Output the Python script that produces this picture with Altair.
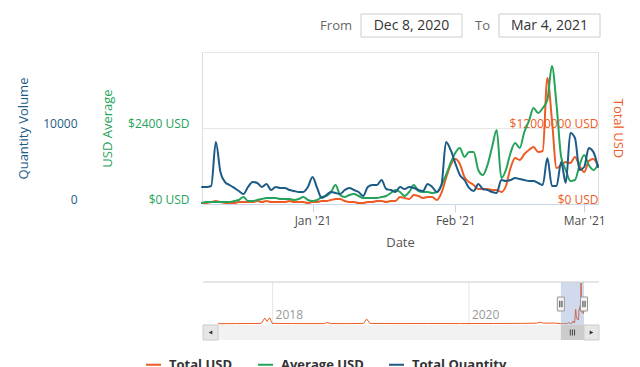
import altair as alt
import pandas as pd

FONT = "Open Sans"

# ------------------------------------------------------------------ data
dates = [d.strftime("%Y-%m-%d") for d in pd.date_range("2020-12-08", "2021-03-04", freq="D")]

total_usd = [
    158000, 158000, 316000, 474000, 316000, 158000, 158000, 158000, 316000, 316000,
    316000, 316000, 474000, 316000, 474000, 316000, 316000, 316000, 316000, 474000,
    316000, 316000, 316000, 158000, 316000, 316000, 474000, 474000, 632000, 789000,
    789000, 474000, 316000, 316000, 158000, 158000, 316000, 316000, 474000, 474000,
    316000, 474000, 474000, 1105000, 947000, 789000, 1420000, 1260000, 947000, 1105000,
    1105000, 632000, 1740000, 4100000, 6160000, 7110000, 6320000, 4260000, 3470000, 3000000,
    2370000, 2370000, 2370000, 2210000, 2210000, 1900000, 2840000, 5680000, 7260000, 6950000,
    7900000, 8530000, 9000000, 8210000, 8370000, 19900000, 13260000, 5680000, 6160000, 6630000,
    6470000, 7420000, 6000000, 5050000, 6790000, 7110000, 6000000,
]

avg_usd = [
    32, 63, 63, 63, 63, 63, 63, 95, 126, 221,
    95, 95, 126, 158, 189, 189, 189, 158, 158, 158,
    126, 158, 221, 126, 95, 126, 221, 253, 379, 600,
    284, 221, 284, 316, 253, 189, 189, 189, 189, 221,
    253, 347, 442, 379, 253, 379, 600, 411, 379, 379,
    347, 379, 600, 916, 1295, 1611, 1768, 1484, 1642, 1642,
    1074, 916, 1232, 1800, 2337, 821, 1074, 1611, 1926, 1768,
    2274, 2621, 3032, 2874, 3032, 3284, 4358, 3126, 1484, 1074,
    726, 758, 1232, 1547, 1232, 1074, 1232,
]

total_qty = [
    2240, 2240, 2370, 8160, 4210, 2890, 2500, 2110, 1710, 1320,
    2240, 2890, 2760, 2240, 2630, 1840, 2240, 2110, 2110, 1840,
    1710, 1580, 1580, 2240, 3550, 2110, 790, 1180, 1580, 1450,
    1320, 1840, 2110, 1840, 1580, 1050, 2240, 2500, 2500, 3160,
    1970, 1840, 1580, 2240, 1970, 2240, 2110, 1840, 1710, 2630,
    2240, 1580, 2500, 8160, 7110, 5390, 3820, 3160, 2110, 1710,
    2630, 1970, 1840, 1580, 1450, 3160, 3030, 3160, 3420, 3290,
    3160, 3030, 3030, 2760, 2500, 6050, 2370, 2370, 5530, 2760,
    9340, 8680, 4470, 4870, 7370, 6840, 4870,
]

# earlier history of Total USD, shown only in the navigator
history_dates = [
    "2017-06-12", "2017-08-15", "2017-10-20", "2017-11-20", "2017-12-03", "2017-12-11",
    "2017-12-21", "2017-12-31", "2018-03-15", "2018-07-10", "2018-07-23", "2018-08-05",
    "2018-10-15", "2018-12-05", "2018-12-17", "2018-12-29", "2019-04-01", "2019-08-01",
    "2019-12-01", "2020-04-01", "2020-07-15", "2020-09-08", "2020-09-21", "2020-10-04",
    "2020-11-15",
]
history_total = [
    150000, 200000, 250000, 300000, 2900000, 1200000,
    3000000, 300000, 200000, 200000, 700000, 200000,
    200000, 300000, 2400000, 300000, 200000, 250000,
    200000, 250000, 300000, 400000, 900000, 400000,
    450000,
]

series_names = ["Total USD", "Average USD", "Total Quantity"]
series_colors = ["#ee5b24", "#26a35b", "#1d5b87"]
axis_titles = ["Total USD", "USD Average", "Quantity Volume"]

year_ticks = ["2018-01-01", "2020-01-01"]
year_labels = ["2018", "2020"]
range_from_label = "Dec 8, 2020"
range_to_label = "Mar 4, 2021"

# ------------------------------------------------------------------ frames
W, H = 396, 152

main_df = pd.DataFrame({"date": dates, "total": total_usd, "avg": avg_usd, "qty": total_qty})
nav_df = pd.DataFrame({"date": history_dates + dates, "total": history_total + total_usd})
win_df = pd.DataFrame({"start": [dates[0]], "end": [dates[-1]]})
edge_df = pd.DataFrame({"date": [dates[0], dates[-1]]})
year_df = pd.DataFrame({"date": year_ticks, "label": year_labels})
one = pd.DataFrame({"k": [0]})


def dt(y, m, d):
    return alt.DateTime(year=y, month=m, date=d, utc=True)


# ------------------------------------------------------------------ main plot
color_scale = alt.Scale(domain=series_names, range=series_colors)
legend = alt.Legend(
    orient="none", legendX=-57, legendY=304, direction="horizontal", title=None,
    symbolType="stroke", symbolSize=225, symbolStrokeWidth=2, labelFont=FONT,
    labelFontSize=13, labelFontWeight="bold", labelColor="#333333",
    columnPadding=21, labelOffset=7, padding=0,
)

x_main = alt.X(
    "date:T", title="Date",
    scale=alt.Scale(type="utc", domain=[dt(2020, 12, 8), dt(2021, 3, 4)]),
    axis=alt.Axis(
        values=[dt(2021, 1, 1), dt(2021, 2, 1), dt(2021, 3, 1)], format="%b '%y",
        labelFont=FONT, labelFontSize=12, labelColor="#4d4d4d", labelFlush=False,
        labelPadding=3, domainColor="#ccd6eb", tickColor="#ccd6eb", tickSize=8,
        grid=False, titleFont=FONT, titleFontSize=13, titleFontWeight="normal",
        titleColor="#555555", titleY=38, titleBaseline="middle",
    ),
)


def y_axis(idx, **kw):
    c = series_colors[idx]
    base = dict(
        ticks=False, domain=False, labelColor=c, labelFont=FONT, labelFontSize=12,
        labelBaseline="alphabetic", labelOffset=-1,
        title=axis_titles[idx], titleColor=c, titleFont=FONT, titleFontSize=13,
        titleFontWeight="normal", titleAlign="center", titleBaseline="middle", titleY=H / 2,
    )
    base.update(kw)
    return alt.Axis(**base)


def series_line(field, idx, top, axis):
    return (
        alt.Chart(main_df)
        .transform_calculate(series=f"'{series_names[idx]}'")
        .mark_line(strokeWidth=2, interpolate="monotone", strokeCap="round", strokeJoin="round")
        .encode(
            x=x_main,
            y=alt.Y(f"{field}:Q", scale=alt.Scale(domain=[0, top], nice=False), axis=axis),
            color=alt.Color("series:N", scale=color_scale, legend=legend),
        )
    )


line_total = series_line("total", 0, 24000000, y_axis(
    0, orient="right", values=[0, 12000000], labelExpr="'$' + datum.value + ' USD'",
    tickSize=0, labelAlign="right", labelPadding=0, grid=False,
    titleAngle=90, titleX=19))
line_avg = series_line("avg", 1, 4800, y_axis(
    1, orient="left", values=[0, 2400, 4800],
    labelExpr="datum.value > 4000 ? '' : '$' + datum.value + ' USD'",
    labelPadding=13, grid=True, gridColor="#e6e6e6",
    titleAngle=-90, titleX=-95))
line_qty = series_line("qty", 2, 20000, y_axis(
    2, orient="left", values=[0, 10000], format="d", offset=112,
    labelPadding=13, grid=False, titleAngle=-90, titleX=-66.5))

main_group = alt.layer(line_total, line_avg, line_qty).resolve_scale(y="independent")

# ------------------------------------------------------------------ navigator
nav_scale_x = alt.Scale(type="utc", domain=[dt(2017, 6, 12), dt(2021, 3, 4)], range=[16, 382])


def nx(field):
    return alt.X(f"{field}:T", scale=nav_scale_x, axis=None)


HANDLE = "M-0.5,-1L0.5,-1L0.5,1L-0.5,1Z"
GRIP = "M-0.15,-0.45L-0.15,0.45M0.15,-0.45L0.15,0.45"
RIFLE = "M-0.35,-0.5L-0.35,0.5M0,-0.5L0,0.5M0.35,-0.5L0.35,0.5"

track = alt.Chart(one).mark_rect(fill="#f2f2f2").encode(
    x=alt.value(1), x2=alt.value(397), y=alt.value(273), y2=alt.value(288))
btn_l = alt.Chart(one).mark_rect(fill="#e6e6e6", stroke="#cccccc", strokeWidth=1).encode(
    x=alt.value(1), x2=alt.value(16), y=alt.value(273), y2=alt.value(288))
btn_r = alt.Chart(one).mark_rect(fill="#e6e6e6", stroke="#cccccc", strokeWidth=1).encode(
    x=alt.value(382), x2=alt.value(397), y=alt.value(273), y2=alt.value(288))
arr_l = alt.Chart(one).mark_point(shape="triangle-left", size=18, filled=True, color="#333333", opacity=1).encode(
    x=alt.value(8.5), y=alt.value(280.5))
arr_r = alt.Chart(one).mark_point(shape="triangle-right", size=18, filled=True, color="#333333", opacity=1).encode(
    x=alt.value(389.5), y=alt.value(280.5))
outline = alt.Chart(one).mark_rule(color="#cccccc", strokeWidth=1).encode(
    x=alt.value(1), x2=alt.value(397), y=alt.value(230))

nav_grid = alt.Chart(year_df).mark_rule(color="#e6e6e6", strokeWidth=1).encode(
    x=nx("date"), y=alt.value(230), y2=alt.value(273))
nav_text = alt.Chart(year_df).mark_text(align="left", baseline="middle", dx=3, font=FONT,
                                         fontSize=12, color="#999999").encode(
    x=nx("date"), y=alt.value(263), text="label:N")
nav_line = alt.Chart(nav_df).mark_line(color=series_colors[0], strokeWidth=1).encode(
    x=nx("date"),
    y=alt.Y("total:Q", scale=alt.Scale(domain=[0, max(total_usd)], range=[272, 231], nice=False), axis=None))
mask = alt.Chart(win_df).mark_rect(color="#6685c2", opacity=0.3).encode(
    x=nx("start"), x2="end:T", y=alt.value(230), y2=alt.value(273))
thumb = alt.Chart(win_df).mark_rect(color="#cccccc", opacity=1).encode(
    x=nx("start"), x2="end:T", y=alt.value(273), y2=alt.value(288))
rifles = alt.Chart(win_df).transform_calculate(
    mid="(time(datum.start) + time(datum.end)) / 2"
).mark_point(shape=RIFLE, size=144, filled=False, stroke="#444444", strokeWidth=1, opacity=1).encode(
    x=nx("mid"), y=alt.value(280.5))
handles = alt.Chart(edge_df).mark_point(shape=HANDLE, size=196, filled=True, fill="#f2f2f2",
                                        stroke="#999999", strokeWidth=1, opacity=1).encode(
    x=nx("date"), y=alt.value(252))
grips = alt.Chart(edge_df).mark_point(shape=GRIP, size=196, filled=False, stroke="#333333",
                                      strokeWidth=1, opacity=1).encode(
    x=nx("date"), y=alt.value(252))

nav_group = alt.layer(nav_grid, nav_text, nav_line, mask, thumb, rifles, handles, grips)

# ------------------------------------------------------------------ range inputs
def box(x0, x1):
    return alt.Chart(one).mark_rect(fill="white", stroke="#cccccc", strokeWidth=1).encode(
        x=alt.value(x0), x2=alt.value(x1), y=alt.value(-38), y2=alt.value(-15))


def label(txt, x, align, size, color):
    return alt.Chart(one).mark_text(text=txt, align=align, baseline="middle", font=FONT,
                                    fontSize=size, color=color).encode(
        x=alt.value(x), y=alt.value(-26.5))


controls = [
    label("From", 150, "right", 13, "#666666"),
    box(159, 260), label(range_from_label, 209.5, "center", 14, "#333333"),
    label("To", 288, "right", 13, "#666666"),
    box(297, 398), label(range_to_label, 347.5, "center", 14, "#333333"),
]

chart = (
    alt.layer(track, btn_l, btn_r, arr_l, arr_r, nav_group, outline, main_group, *controls)
    .resolve_scale(x="independent", y="independent")
    .properties(
        width=W, height=H,
        autosize=alt.AutoSizeParams(type="none"),
        padding={"left": 194, "top": 44, "right": 30, "bottom": 170},
    )
    .configure_view(stroke=None)
    .configure(font=FONT)
)

chart.save("out.html", embed_options={"renderer": "svg", "actions": False})
